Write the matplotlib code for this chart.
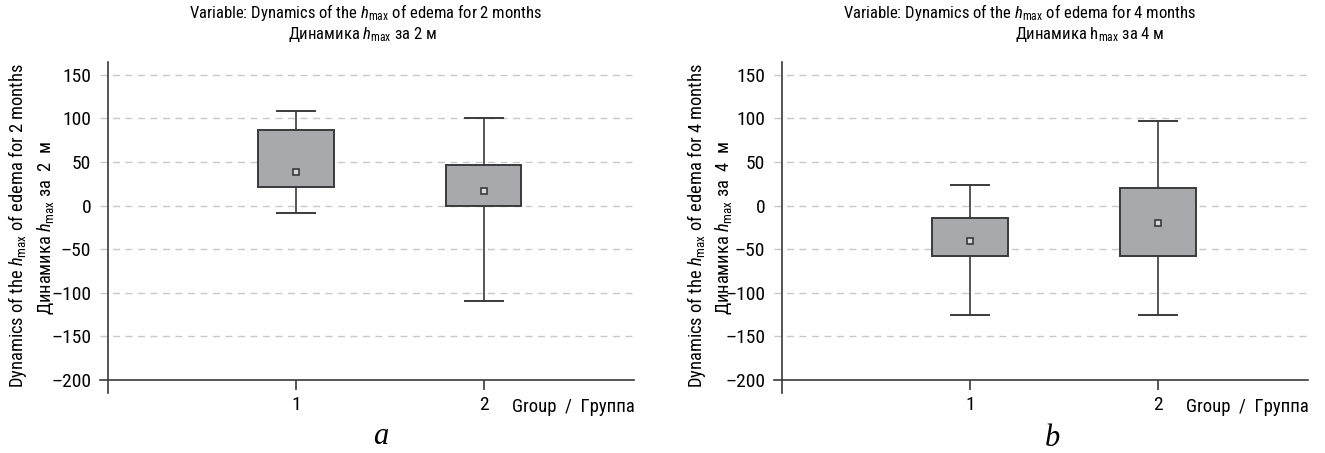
import matplotlib
matplotlib.use("Agg")
import matplotlib.pyplot as plt
from matplotlib import font_manager

# Data: box = q1..q3, whiskers lo/hi, square = mean
groups = [1, 2]
group_labels = ["1", "2"]

m2_mean = [38, 17]
m2_q1 = [21, 0]
m2_q3 = [87, 46]
m2_lo = [-9, -110]
m2_hi = [109, 100]

m4_mean = [-41, -20]
m4_q1 = [-58, -58]
m4_q3 = [-14, 20]
m4_lo = [-125, -125]
m4_hi = [23, 97]

yticks = [-200, -150, -100, -50, 0, 50, 100, 150]

names = {f.name for f in font_manager.fontManager.ttflist}
FONT = "Liberation Sans"
for cand in ["Liberation Sans Narrow", "Roboto Condensed", "Open Sans Condensed"]:
    if cand in names:
        FONT = cand
        break
plt.rcParams["font.family"] = [FONT, "DejaVu Sans"]
plt.rcParams["mathtext.fontset"] = "custom"
plt.rcParams["mathtext.rm"] = FONT
plt.rcParams["mathtext.it"] = FONT + ":italic"

EDGE = "#3a3a3a"
FILL = "#a7a9ac"
GRID = "#c8c8c8"
TICK_FS = 14
TITLE_FS = 12
YLAB_FS = 13.3
W, H = 1325, 453


def draw_panel(ax, means, q1, q3, lo, hi):
    stats = []
    for i in range(len(groups)):
        stats.append({"med": means[i], "q1": q1[i], "q3": q3[i],
                      "whislo": lo[i], "whishi": hi[i], "mean": means[i],
                      "fliers": []})
    ax.bxp(stats, positions=groups, widths=0.4, showmeans=True,
           patch_artist=True, showfliers=False,
           boxprops=dict(facecolor=FILL, edgecolor=EDGE, linewidth=1.4),
           whiskerprops=dict(color=EDGE, linewidth=1.2),
           capprops=dict(color=EDGE, linewidth=1.4),
           capwidths=0.2,
           medianprops=dict(visible=False),
           meanprops=dict(marker="s", markersize=4.5, markerfacecolor="#d8d8d8",
                          markeredgecolor=EDGE, markeredgewidth=1.2))
    ax.set_xlim(-0.04, 2.8)
    ax.set_ylim(-215, 165)
    ax.set_yticks(yticks)
    ax.set_yticklabels([str(v).replace("-", "\u2013") for v in yticks])
    ax.set_xticks(groups)
    ax.set_xticklabels(group_labels)
    for v in yticks[1:]:
        ax.axhline(v, color=GRID, linestyle=(0, (5, 4)), linewidth=1.0, zorder=0)
    ax.spines["top"].set_visible(False)
    ax.spines["right"].set_visible(False)
    ax.spines["left"].set_position(("data", 0))
    ax.spines["bottom"].set_position(("data", -200))
    for s in ("left", "bottom"):
        ax.spines[s].set_color(EDGE)
        ax.spines[s].set_linewidth(1.2)
    ax.tick_params(axis="y", length=0, pad=12, labelsize=TICK_FS)
    ax.tick_params(axis="x", length=7.5, width=1.2, color=EDGE, pad=4,
                   labelsize=TICK_FS)
    ax.text(1.0, -0.0573, "Group  /  Группа", transform=ax.transAxes,
            ha="right", va="baseline", fontsize=13.5)


fig = plt.figure(figsize=(W / 100, H / 100), dpi=100)
ax1 = fig.add_axes([0.0758, 0.1325, 0.4029, 0.7313])
ax2 = fig.add_axes([0.5845, 0.1325, 0.4029, 0.7313])

draw_panel(ax1, m2_mean, m2_q1, m2_q3, m2_lo, m2_hi)
draw_panel(ax2, m4_mean, m4_q1, m4_q3, m4_lo, m4_hi)

H_IT = "$h_{\\mathrm{max}}$"
H_RM = "h$_{\\mathrm{max}}$"

# titles (two lines each)
fig.text(366 / W, 1 - 18 / H, f"Variable: Dynamics of the {H_IT} of edema for 2 months",
         ha="center", va="baseline", fontsize=TITLE_FS)
fig.text(363 / W, 1 - 39 / H, f"Динамика {H_IT} за 2 м",
         ha="center", va="baseline", fontsize=TITLE_FS)
fig.text(1020 / W, 1 - 18 / H, f"Variable: Dynamics of the {H_IT} of edema for 4 months",
         ha="center", va="baseline", fontsize=TITLE_FS)
fig.text(1090 / W, 1 - 39 / H, f"Динамика {H_RM} за 4 м",
         ha="center", va="baseline", fontsize=TITLE_FS)

# y labels (two rotated lines each)
for x0, n in [(0, 2), (678, 4)]:
    fig.text((x0 + 18) / W, 1 - 226 / H,
             f"Dynamics of the {H_IT} of edema for {n} months",
             rotation=90, ha="center", va="center", fontsize=YLAB_FS)
    fig.text((x0 + 46) / W, 1 - 228 / H, f"Динамика {H_IT} за  {n}  м",
             rotation=90, ha="center", va="center", fontsize=YLAB_FS)

serif = ["Liberation Serif", "DejaVu Serif"]
fig.text(381 / W, 1 - 436 / H, "a", fontsize=22, style="italic",
         family=serif, ha="center", va="center")
fig.text(1052 / W, 1 - 438 / H, "b", fontsize=22, style="italic",
         family=serif, ha="center", va="center")

fig.savefig("out.png", dpi=100)
